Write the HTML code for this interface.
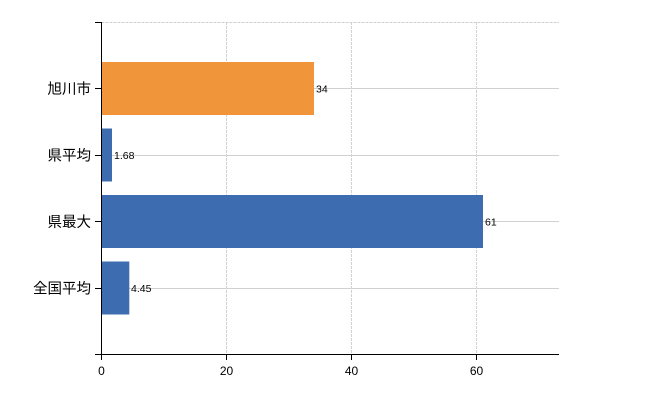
<!DOCTYPE html>
<html><head><meta charset="utf-8"><style>
html,body{margin:0;padding:0;background:#fff;width:650px;height:400px;overflow:hidden}
svg{display:block}
text{font-family:"Liberation Sans","Noto Sans CJK JP",sans-serif;fill:#000}
</style></head><body>
<svg width="650" height="400" viewBox="0 0 650 400" xmlns="http://www.w3.org/2000/svg">
<g stroke="#d0d0d0" stroke-width="1" stroke-dasharray="3,1">
<line x1="101.5" y1="22.5" x2="559" y2="22.5"/>
<line x1="226.5" y1="22" x2="226.5" y2="354"/>
<line x1="351.5" y1="22" x2="351.5" y2="354"/>
<line x1="476.5" y1="22" x2="476.5" y2="354"/>
</g>
<g stroke="#cfd2cf" stroke-width="1">
<line x1="101" y1="88.5" x2="559" y2="88.5"/>
<line x1="101" y1="155.5" x2="559" y2="155.5"/>
<line x1="101" y1="221.5" x2="559" y2="221.5"/>
<line x1="101" y1="288.5" x2="559" y2="288.5"/>
</g>
<rect x="101.5" y="62" width="212.5" height="53" fill="#f1953a"/>
<rect x="101.5" y="128.5" width="10.5" height="53" fill="#3d6db0"/>
<rect x="101.5" y="195" width="381.5" height="53" fill="#3d6db0"/>
<rect x="101.5" y="261.5" width="27.8" height="53" fill="#3d6db0"/>
<g font-size="10.5">
<text x="316" y="92.5">34</text>
<text x="114" y="159">1.68</text>
<text x="485" y="225.5">61</text>
<text x="131" y="292">4.45</text>
</g>
<g stroke="#000" stroke-width="1" fill="none">
<path d="M95,22.5H101.5V354.5H95"/>
<line x1="101.5" y1="354.5" x2="559" y2="354.5"/>
<line x1="95" y1="88.5" x2="101" y2="88.5"/>
<line x1="95" y1="155.5" x2="101" y2="155.5"/>
<line x1="95" y1="221.5" x2="101" y2="221.5"/>
<line x1="95" y1="288.5" x2="101" y2="288.5"/>
<line x1="101.5" y1="354" x2="101.5" y2="360"/>
<line x1="226.5" y1="354" x2="226.5" y2="360"/>
<line x1="351.5" y1="354" x2="351.5" y2="360"/>
<line x1="476.5" y1="354" x2="476.5" y2="360"/>
</g>
<g font-size="12" text-anchor="middle">
<text x="101.5" y="375">0</text>
<text x="226.5" y="375">20</text>
<text x="351.5" y="375">40</text>
<text x="476.5" y="375">60</text>
</g>
<g font-size="14.5" text-anchor="end">
<text x="91" y="94">旭川市</text>
<text x="91" y="160.5">県平均</text>
<text x="91" y="227">県最大</text>
<text x="91" y="293.5">全国平均</text>
</g>
</svg>
</body></html>
